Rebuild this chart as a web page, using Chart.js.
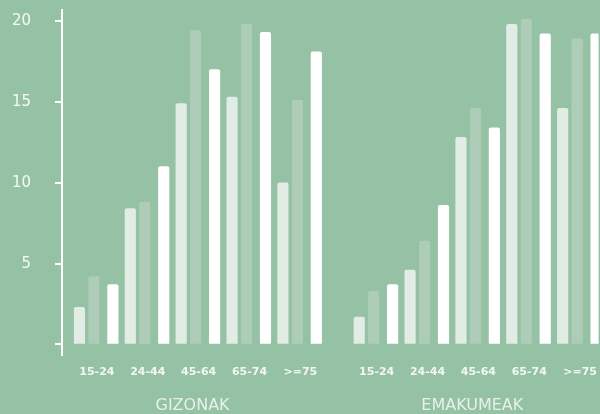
<!DOCTYPE html>
<html>
<head>
<meta charset="utf-8">
<title>Gizonak / Emakumeak</title>
<script src="https://cdn.jsdelivr.net/npm/chart.js@4/dist/chart.umd.min.js"></script>
<style>
  html, body { margin: 0; padding: 0; background: #95c1a5; }
  #wrap { width: 600px; height: 414px; position: relative; }
</style>
</head>
<body>
<div id="wrap"><canvas id="chart"></canvas></div>
<script>
// Age groups and the two panels
const ageGroups = ['15-24', '24-44', '45-64', '65-74', '>=75'];
const panels = ['GIZONAK', 'EMAKUMEAK'];

// Three series per panel (values in %)
const gizonakA = [2.3, 8.4, 14.9, 15.3, 10.0];
const gizonakB = [4.2, 8.8, 19.4, 19.8, 15.1];
const gizonakC = [3.7, 11.0, 17.0, 19.3, 18.1];

const emakumeakA = [1.7, 4.6, 12.8, 19.8, 14.6];
const emakumeakB = [3.3, 6.4, 14.6, 20.1, 18.9];
const emakumeakC = [3.7, 8.6, 13.4, 19.2, 19.2];

// Y axis ticks
const yTicks = [0, 5, 10, 15, 20];

// Layout on a shared linear x axis: one unit per age group,
// the second panel starts after a half-group gap.
const GROUP_PX = 51;
const PANEL_START = [0, 5.5];
const SERIES_SHIFT = [-17.5 / GROUP_PX, -3 / GROUP_PX, 16 / GROUP_PX];
const TITLE_SHIFT = -0.12;
const X_MIN = -35 / GROUP_PX;
const X_MAX = 503 / GROUP_PX;

const seriesByPanel = [
  [gizonakA, gizonakB, gizonakC],
  [emakumeakA, emakumeakB, emakumeakC]
];
const seriesColors = ['#e1ede4', '#adcdb8', '#ffffff'];

const groupPositions = [];
const groupLabels = [];
PANEL_START.forEach(start => {
  ageGroups.forEach((g, i) => {
    groupPositions.push(start + i);
    groupLabels.push(g);
  });
});

const datasets = [0, 1, 2].map(s => {
  const points = [];
  seriesByPanel.forEach((series, p) => {
    series[s].forEach((v, i) => {
      points.push({ x: PANEL_START[p] + i + SERIES_SHIFT[s], y: v });
    });
  });
  return {
    label: 'serie ' + (s + 1),
    data: points,
    xAxisID: 'x',
    backgroundColor: seriesColors[s],
    borderWidth: 0,
    borderRadius: 2,
    borderSkipped: 'start',
    barThickness: 10.5,
    grouped: false
  };
});

new Chart(document.getElementById('chart'), {
  type: 'bar',
  data: { datasets },
  options: {
    responsive: true,
    maintainAspectRatio: false,
    animation: false,
    devicePixelRatio: 1,
    layout: { padding: { top: 10, left: 0, right: 0, bottom: 0 } },
    plugins: {
      legend: { display: false },
      tooltip: { enabled: false }
    },
    scales: {
      x: {
        type: 'linear',
        position: 'bottom',
        offset: false,
        weight: 0,
        min: X_MIN,
        max: X_MAX,
        grid: { display: false, offset: false },
        border: { display: false },
        afterBuildTicks: scale => {
          scale.ticks = groupPositions.map(v => ({ value: v }));
        },
        afterFit: scale => { scale.height = 30; },
        ticks: {
          autoSkip: false,
          maxRotation: 0,
          padding: 3,
          color: '#f2f7f3',
          font: { family: 'DejaVu Sans', size: 11, weight: 'bold' },
          callback: (value, index) => groupLabels[index]
        }
      },
      xTitle: {
        type: 'linear',
        position: 'bottom',
        offset: false,
        weight: 1,
        min: X_MIN,
        max: X_MAX,
        grid: { display: false, offset: false },
        border: { display: false },
        afterBuildTicks: scale => {
          scale.ticks = PANEL_START.map(s => ({ value: s + 2 + TITLE_SHIFT }));
        },
        afterFit: scale => { scale.height = 29; },
        ticks: {
          autoSkip: false,
          maxRotation: 0,
          padding: 3,
          color: '#e6f1e9',
          font: { family: 'DejaVu Sans', size: 16, weight: 'normal' },
          callback: (value, index) => panels[index]
        }
      },
      y: {
        type: 'linear',
        position: 'left',
        min: -0.65,
        max: 20.68,
        afterBuildTicks: scale => {
          scale.ticks = yTicks.map(v => ({ value: v }));
        },
        afterFit: scale => {
          scale.width = 62;
          // keep the wide label gap from pushing the plot area down
          scale.paddingTop = 0;
          scale.paddingBottom = 0;
        },
        grid: {
          display: true,
          drawOnChartArea: false,
          drawTicks: true,
          tickLength: 7,
          color: '#ffffff',
          lineWidth: 2
        },
        border: { display: true, color: '#ffffff', width: 2 },
        ticks: {
          padding: 24,
          color: '#f6faf7',
          font: { family: 'DejaVu Sans', size: 15, weight: 'normal' },
          callback: v => (v === 0 ? '' : String(v))
        }
      }
    }
  }
});
</script>
</body>
</html>
